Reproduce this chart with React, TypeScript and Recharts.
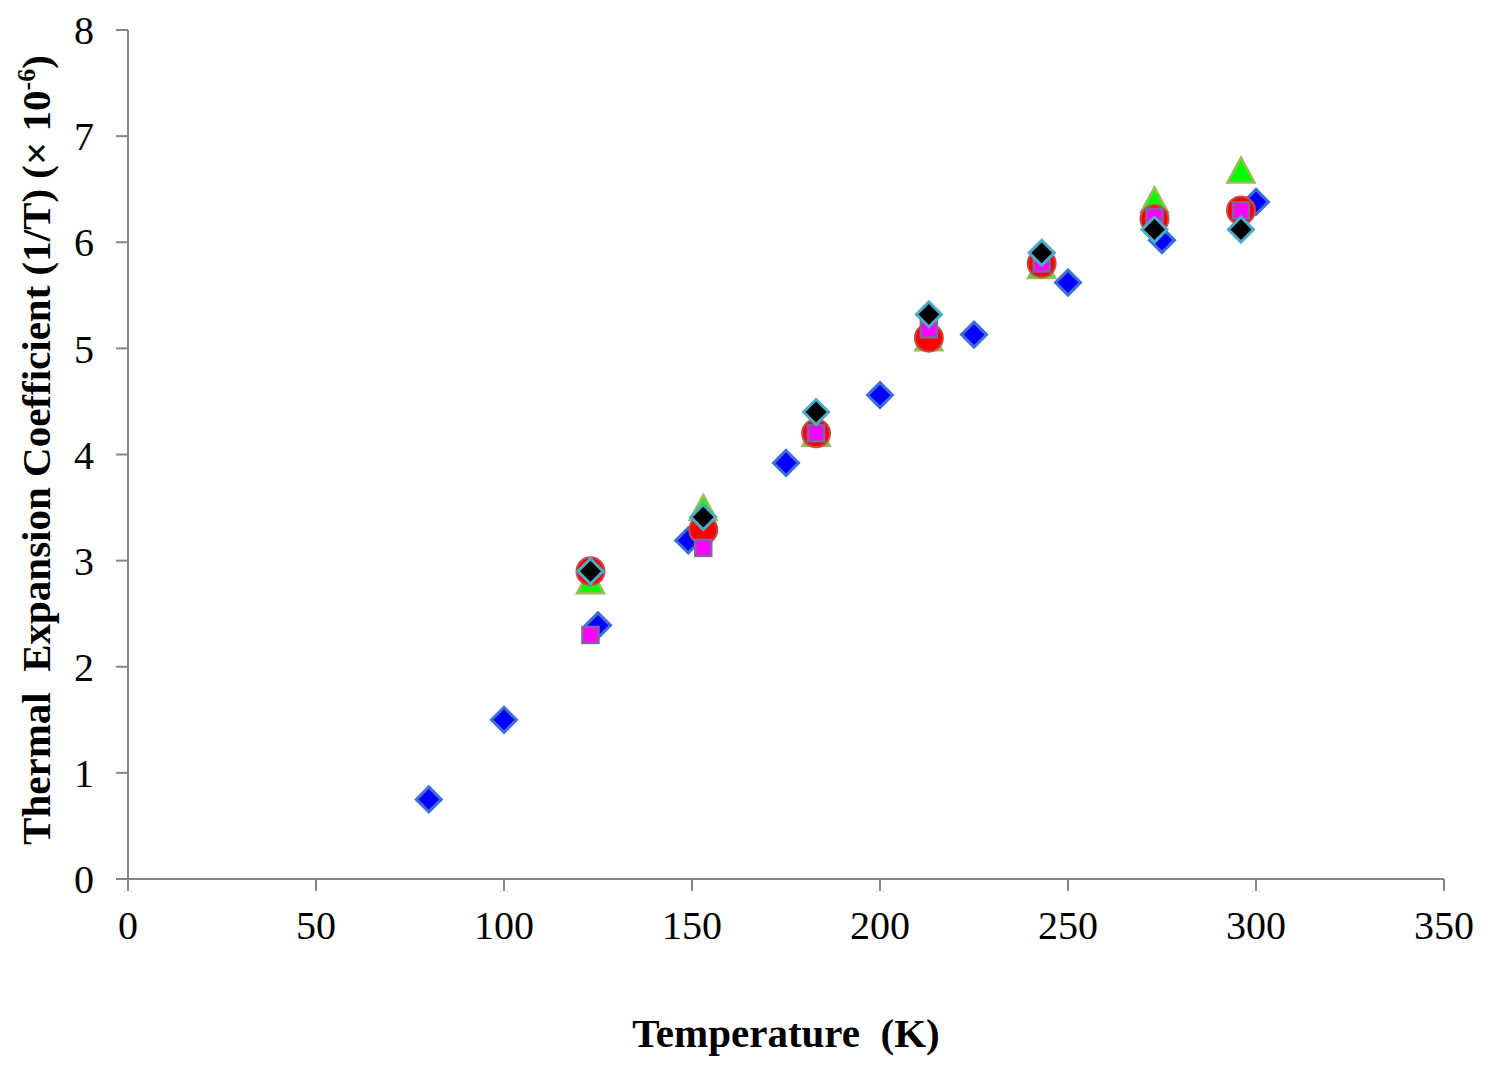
import React from "react";
import { ScatterChart, Scatter, XAxis, YAxis } from "recharts";

// reference curve (blue diamonds)
const refTemps = [80, 100, 125, 149, 175, 200, 225, 250, 275, 300];
const refAlpha = [0.75, 1.5, 2.39, 3.19, 3.92, 4.56, 5.13, 5.62, 6.02, 6.38];

// measured temperatures shared by the other four series
const measTemps = [123, 153, 183, 213, 243, 273, 296];
const redAlpha = [2.9, 3.29, 4.2, 5.1, 5.8, 6.22, 6.3];
const greenAlpha = [2.81, 3.5, 4.2, 5.1, 5.78, 6.4, 6.68];
const magentaAlpha = [2.3, 3.12, 4.2, 5.18, 5.8, 6.24, 6.3];
const blackAlpha = [2.9, 3.41, 4.4, 5.32, 5.9, 6.12, 6.12];

const xTicks = [0, 50, 100, 150, 200, 250, 300, 350];
const yTicks = [0, 1, 2, 3, 4, 5, 6, 7, 8];

const toPoints = (xs: number[], ys: number[]) => xs.map((t, i) => ({ t, a: ys[i] }));

const refData = toPoints(refTemps, refAlpha);
const redData = toPoints(measTemps, redAlpha);
const greenData = toPoints(measTemps, greenAlpha);
const magentaData = toPoints(measTemps, magentaAlpha);
const blackData = toPoints(measTemps, blackAlpha);

const FONT = '"Liberation Serif", "Times New Roman", serif';
const AXIS = "#868686";

const Diamond = (fill: string, stroke: string, r: number) => (props: any) => {
  const { cx, cy } = props;
  if (cx == null || cy == null) return null;
  return (
    <path
      d={`M${cx},${cy - r} L${cx + r},${cy} L${cx},${cy + r} L${cx - r},${cy} Z`}
      fill={fill}
      stroke={stroke}
      strokeWidth={3}
      strokeLinejoin="miter"
    />
  );
};

const Circle = (props: any) => {
  const { cx, cy } = props;
  if (cx == null || cy == null) return null;
  return <circle cx={cx} cy={cy} r={14} fill="#FF0000" stroke="#C0504D" strokeWidth={2} />;
};

const Triangle = (props: any) => {
  const { cx, cy } = props;
  if (cx == null || cy == null) return null;
  const w = 13.5;
  const h = 12.5;
  return (
    <path
      d={`M${cx},${cy - h} L${cx + w},${cy + h} L${cx - w},${cy + h} Z`}
      fill="#00FF00"
      stroke="#9BBB59"
      strokeWidth={2.5}
    />
  );
};

const Square = (props: any) => {
  const { cx, cy } = props;
  if (cx == null || cy == null) return null;
  const s = 8;
  return (
    <rect x={cx - s} y={cy - s} width={2 * s} height={2 * s} fill="#FF00FF" stroke="#8064A2" strokeWidth={2.5} />
  );
};

const YLabel = () => (
  <text
    transform="rotate(-90)"
    x={-450}
    y={50}
    textAnchor="middle"
    fontFamily={FONT}
    fontWeight="bold"
    fontSize={41}
    fill="#000"
    style={{ whiteSpace: "pre" }}
  >
    {"Thermal  Expansion Coefficient (1/T) (× 10"}
    <tspan dy={-15} fontSize={26}>-6</tspan>
    <tspan dy={15}>)</tspan>
  </text>
);

const XLabel = (props: any) => {
  const vb = props.viewBox || {};
  return (
    <text
      x={vb.x + vb.width / 2}
      y={vb.y + 168}
      textAnchor="middle"
      fontFamily={FONT}
      fontWeight="bold"
      fontSize={41}
      fill="#000"
      style={{ whiteSpace: "pre" }}
    >
      {"Temperature  (K)"}
    </text>
  );
};

export default function App() {
  return (
    <div style={{ position: "absolute", left: 0, top: 0, background: "#fff" }}>
      <ScatterChart width={1492} height={1071} margin={{ top: 30, right: 48, bottom: 0, left: 0 }}>
        <XAxis
          type="number"
          dataKey="t"
          domain={[0, 350]}
          ticks={xTicks}
          interval={0}
          height={192}
          stroke={AXIS}
          strokeWidth={2}
          tickSize={12}
          tickMargin={20}
          tick={{ fontFamily: FONT, fontSize: 40, fill: "#000" }}
          label={<XLabel />}
        />
        <YAxis
          type="number"
          dataKey="a"
          domain={[0, 8]}
          ticks={yTicks}
          interval={0}
          width={128}
          stroke={AXIS}
          strokeWidth={2}
          tickSize={12}
          tickMargin={22}
          tick={{ fontFamily: FONT, fontSize: 40, fill: "#000" }}
          label={<YLabel />}
        />
        <Scatter data={refData} shape={Diamond("#0000FF", "#3F6FD6", 12.5)} isAnimationActive={false} />
        <Scatter data={greenData} shape={Triangle} isAnimationActive={false} />
        <Scatter data={redData} shape={Circle} isAnimationActive={false} />
        <Scatter data={magentaData} shape={Square} isAnimationActive={false} />
        <Scatter data={blackData} shape={Diamond("#000000", "#4BACC6", 12.5)} isAnimationActive={false} />
      </ScatterChart>
    </div>
  );
}
